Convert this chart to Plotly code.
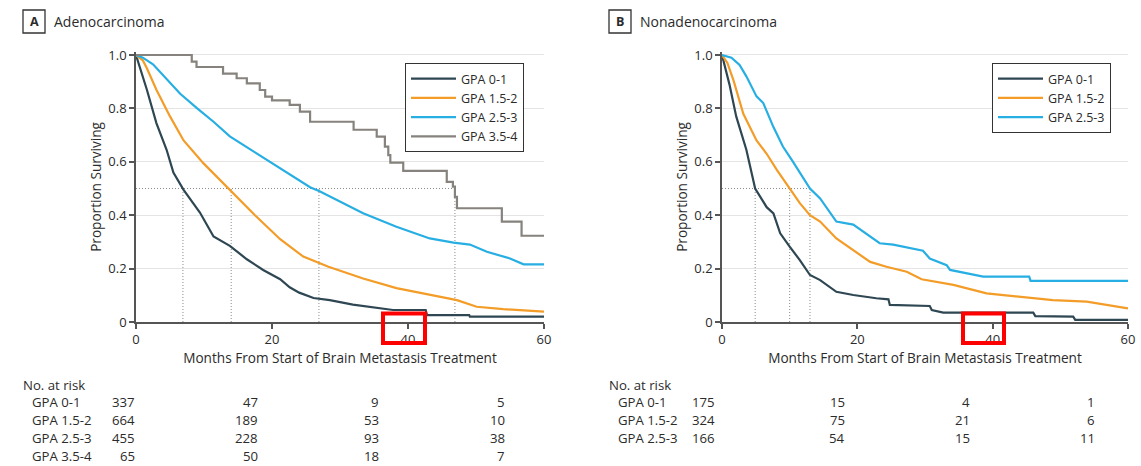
import plotly.graph_objects as go

W, H = 1141, 466

# ---------------- data ----------------
month_ticks = [0, 20, 40, 60]
surv_ticks = [0, 0.2, 0.4, 0.6, 0.8, 1.0]
surv_tick_labels = ["0", "0.2", "0.4", "0.6", "0.8", "1.0"]

groups_a = ["GPA 0-1", "GPA 1.5-2", "GPA 2.5-3", "GPA 3.5-4"]
groups_b = ["GPA 0-1", "GPA 1.5-2", "GPA 2.5-3"]

# Panel A: Adenocarcinoma
a_gpa01_t = [0, 1.6, 3.0, 4.5, 5.5, 7.0, 9.4, 11.4, 13.8, 16.3, 18.7, 21.2, 22.6, 24.0, 26.1, 28.5, 31.9, 35.0, 37.8, 42.6, 42.8, 49.0, 49.1, 60]
a_gpa01_s = [1.0, 0.87, 0.745, 0.645, 0.56, 0.495, 0.41, 0.32, 0.285, 0.235, 0.195, 0.16, 0.13, 0.11, 0.09, 0.082, 0.065, 0.055, 0.045, 0.045, 0.026, 0.026, 0.02, 0.02]

a_gpa152_t = [0, 1.0, 1.6, 3.0, 5.0, 7.0, 9.9, 13.8, 17.5, 21.2, 24.6, 28.3, 33.4, 38.3, 43.2, 47.2, 50.1, 54.0, 60]
a_gpa152_s = [1.0, 0.98, 0.95, 0.87, 0.77, 0.68, 0.595, 0.495, 0.4, 0.31, 0.245, 0.207, 0.163, 0.127, 0.101, 0.082, 0.057, 0.048, 0.039]

a_gpa253_t = [0, 1.0, 2.5, 4.5, 6.5, 9.0, 11.4, 13.8, 17.7, 21.2, 23.5, 25.6, 27.0, 29.5, 33.4, 38.3, 43.2, 46.7, 49.1, 51.6, 55.0, 57.0, 60]
a_gpa253_s = [1.0, 0.99, 0.965, 0.91, 0.855, 0.8, 0.75, 0.695, 0.632, 0.575, 0.54, 0.505, 0.49, 0.457, 0.407, 0.357, 0.313, 0.297, 0.29, 0.263, 0.238, 0.216, 0.216]

a_gpa354_t = [0, 8.2, 8.9, 12.8, 14.8, 16.3, 18.2, 19.0, 20.0, 22.6, 24.1, 25.6, 32.0, 35.4, 36.6, 37.1, 37.4, 39.3, 45.7, 46.6, 46.9, 47.2, 53.8, 56.7, 60]
a_gpa354_s = [1.0, 0.975, 0.955, 0.93, 0.913, 0.894, 0.869, 0.844, 0.83, 0.813, 0.788, 0.75, 0.72, 0.694, 0.657, 0.625, 0.597, 0.566, 0.525, 0.507, 0.469, 0.426, 0.376, 0.323, 0.323]

a_medians = [6.9, 14.0, 26.9, 46.9]

# Panel B: Nonadenocarcinoma
b_gpa01_t = [0, 1.1, 2.1, 3.6, 4.9, 6.6, 7.6, 8.6, 10.0, 11.5, 13.0, 14.5, 16.9, 19.4, 22.8, 24.6, 24.8, 30.7, 31.0, 32.7, 46.0, 46.3, 51.9, 52.2, 60]
b_gpa01_s = [1.0, 0.89, 0.77, 0.645, 0.5, 0.43, 0.407, 0.332, 0.282, 0.232, 0.176, 0.157, 0.113, 0.101, 0.089, 0.085, 0.064, 0.06, 0.045, 0.035, 0.035, 0.022, 0.02, 0.008, 0.008]

b_gpa152_t = [0, 0.8, 1.7, 3.15, 5.1, 6.6, 8.1, 10.0, 11.5, 13.0, 14.5, 16.9, 19.4, 21.9, 24.3, 27.3, 29.5, 34.2, 39.1, 44.0, 48.9, 53.9, 56.8, 60]
b_gpa152_s = [1.0, 0.97, 0.905, 0.78, 0.68, 0.63, 0.57, 0.5, 0.445, 0.4, 0.376, 0.313, 0.27, 0.225, 0.207, 0.188, 0.16, 0.139, 0.107, 0.095, 0.082, 0.076, 0.064, 0.051]

b_gpa253_t = [0, 1.4, 2.6, 3.6, 5.1, 6.1, 7.6, 9.0, 10.5, 13.0, 14.5, 16.9, 19.4, 21.9, 23.3, 25.3, 27.3, 29.7, 30.7, 33.2, 33.7, 36.1, 38.6, 45.4, 45.6, 60]
b_gpa253_s = [1.0, 0.99, 0.963, 0.92, 0.845, 0.82, 0.73, 0.657, 0.6, 0.5, 0.463, 0.376, 0.365, 0.32, 0.295, 0.29, 0.28, 0.267, 0.238, 0.213, 0.195, 0.182, 0.17, 0.17, 0.154, 0.154]

b_medians = [4.9, 10.0, 13.0]

# Numbers at risk
risk_a_gpa01 = [337, 47, 9, 5]
risk_a_gpa152 = [664, 189, 53, 10]
risk_a_gpa253 = [455, 228, 93, 38]
risk_a_gpa354 = [65, 50, 18, 7]
risk_b_gpa01 = [175, 15, 4, 1]
risk_b_gpa152 = [324, 75, 21, 6]
risk_b_gpa253 = [166, 54, 15, 11]

# ---------------- style ----------------
FONT = "Open Sans"
TXT = "#2b2b2b"
AX = "#555555"
COLORS = ["#2e4753", "#f39c27", "#27aee3", "#86837e"]


def px(x):
    return x / W


def py(y):
    return 1 - y / H


Y0, Y1 = 322, 55          # pixel rows of 0 and 1.0
YMAX = 1.012
ytop = Y0 - (Y0 - Y1) * YMAX
ydom = [py(Y0), py(ytop)]
xdomA = [px(136), px(544)]
xdomB = [px(722), px(1128)]

fig = go.Figure()


def median_trace(meds, xa, ya):
    xs = [0, max(meds), None]
    ys = [0.5, 0.5, None]
    for m in meds:
        xs += [m, m, None]
        ys += [0, 0.5, None]
    return go.Scatter(x=xs, y=ys, mode="lines", xaxis=xa, yaxis=ya,
                      line=dict(color="#8a8a8a", width=1, dash="1px,2px"),
                      showlegend=False, hoverinfo="skip")


fig.add_trace(median_trace(a_medians, "x", "y"))
fig.add_trace(median_trace(b_medians, "x2", "y2"))

panel_a = [(a_gpa01_t, a_gpa01_s, "linear"), (a_gpa152_t, a_gpa152_s, "linear"),
           (a_gpa253_t, a_gpa253_s, "linear"), (a_gpa354_t, a_gpa354_s, "hv")]
for i, (t, s, shape) in enumerate(panel_a):
    fig.add_trace(go.Scatter(x=t, y=s, mode="lines", name=groups_a[i],
                             line=dict(color=COLORS[i], width=2.2, shape=shape),
                             xaxis="x", yaxis="y", legend="legend"))

panel_b = [(b_gpa01_t, b_gpa01_s), (b_gpa152_t, b_gpa152_s), (b_gpa253_t, b_gpa253_s)]
for i, (t, s) in enumerate(panel_b):
    fig.add_trace(go.Scatter(x=t, y=s, mode="lines", name=groups_b[i],
                             line=dict(color=COLORS[i], width=2.2, shape="linear"),
                             xaxis="x2", yaxis="y2", legend="legend2"))

tickfont = dict(family=FONT, size=13, color=TXT)
titlefont = dict(family=FONT, size=13.6, color=TXT)


def xaxis_cfg(dom, anchor):
    return dict(domain=dom, anchor=anchor, range=[0, 60], tickvals=month_ticks,
                ticks="outside", ticklen=5, tickwidth=1.5, tickcolor=AX,
                showline=True, linecolor=AX, linewidth=1.5, showgrid=False,
                zeroline=False, tickfont=tickfont, automargin=False,
                title=dict(text="Months From Start of Brain Metastasis Treatment",
                           font=titlefont, standoff=2))


def yaxis_cfg(anchor):
    return dict(domain=ydom, anchor=anchor, range=[0, YMAX], tickvals=surv_ticks,
                ticktext=surv_tick_labels, ticks="outside", ticklen=5, tickwidth=1.5,
                tickcolor=AX, showline=True, linecolor=AX, linewidth=1.5,
                showgrid=True, gridcolor="#e4e4e4", gridwidth=1, zeroline=False,
                tickfont=tickfont, automargin=False,
                title=dict(text="Proportion Surviving", font=titlefont, standoff=4))


legend_common = dict(bgcolor="white", bordercolor="#333333", borderwidth=1,
                     font=dict(family=FONT, size=12.5, color=TXT),
                     xanchor="left", yanchor="top", itemwidth=45,
                     tracegroupgap=0, traceorder="normal")

fig.update_layout(
    width=W, height=H,
    margin=dict(l=0, r=0, t=0, b=0, pad=0, autoexpand=False),
    paper_bgcolor="white", plot_bgcolor="white",
    font=dict(family=FONT, color=TXT),
    xaxis=xaxis_cfg(xdomA, "y"),
    yaxis=yaxis_cfg("x"),
    xaxis2=xaxis_cfg(xdomB, "y2"),
    yaxis2=yaxis_cfg("x2"),
    legend=dict(x=px(405), y=py(63), **legend_common),
    legend2=dict(x=px(992), y=py(63), **legend_common),
)

annotations = []
shapes = []

# Panel titles
for letter, name, x0 in [("A", "Adenocarcinoma", 23), ("B", "Nonadenocarcinoma", 609)]:
    shapes.append(dict(type="rect", xref="paper", yref="paper",
                       x0=px(x0), x1=px(x0 + 22), y0=py(33), y1=py(10),
                       line=dict(color="#333333", width=1.3)))
    annotations.append(dict(text="<b>%s</b>" % letter, xref="paper", yref="paper",
                            x=px(x0 + 11), y=py(21.5), xanchor="center", yanchor="middle",
                            showarrow=False, font=dict(family=FONT, size=12.5, color=TXT)))
    annotations.append(dict(text=name, xref="paper", yref="paper",
                            x=px(x0 + 29), y=py(21.5), xanchor="left", yanchor="middle",
                            showarrow=False, font=dict(family=FONT, size=14, color=TXT)))

# Number at risk tables
risk_font = dict(family=FONT, size=13.2, color=TXT)
row_y = [402, 420, 438, 456]
tables = [
    (21, [risk_a_gpa01, risk_a_gpa152, risk_a_gpa253, risk_a_gpa354], groups_a, [137, 260, 381, 507]),
    (607, [risk_b_gpa01, risk_b_gpa152, risk_b_gpa253], groups_b, [717, 847, 972, 1097]),
]
for xl, rows, labels, col_right in tables:
    annotations.append(dict(text="No. at risk", xref="paper", yref="paper",
                            x=px(xl), y=py(385), xanchor="left", yanchor="middle",
                            showarrow=False, font=risk_font))
    for r, (vals, lab) in enumerate(zip(rows, labels)):
        annotations.append(dict(text=lab, xref="paper", yref="paper",
                                x=px(xl + 9), y=py(row_y[r]), xanchor="left",
                                yanchor="middle", showarrow=False, font=risk_font))
        for c, v in enumerate(vals):
            annotations.append(dict(text=str(v), xref="paper", yref="paper",
                                    x=px(col_right[c]), y=py(row_y[r]), xanchor="right",
                                    yanchor="middle", showarrow=False, font=risk_font))

# Red highlight boxes around the "40" tick labels
for x0, x1 in [(383, 425), (963, 1004)]:
    shapes.append(dict(type="rect", xref="paper", yref="paper",
                       x0=px(x0), x1=px(x1), y0=py(343), y1=py(313.5),
                       line=dict(color="#ff0000", width=4)))

fig.update_layout(annotations=annotations, shapes=shapes)

fig.write_html("out.html", config={"displayModeBar": False},
               post_script="document.body.style.margin='0px';document.body.style.overflow='hidden';")
